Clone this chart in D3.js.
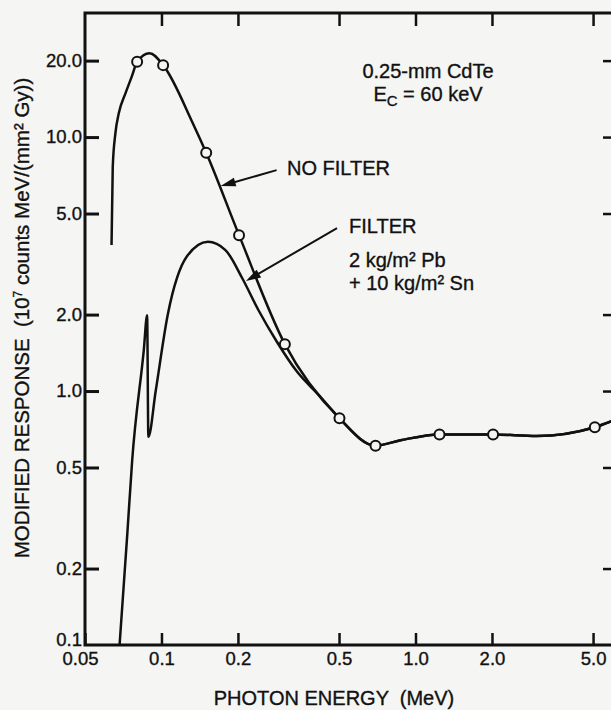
<!DOCTYPE html>
<html>

<head>
    <title>CdTe modified response</title>
    <script src="https://cdnjs.cloudflare.com/ajax/libs/d3/7.8.5/d3.min.js"></script>
    <style>
        body { margin: 0; background: #f5f5f3; }
        text { font-family: "Liberation Sans", Arial, Helvetica, sans-serif; fill: #111; stroke: #111; stroke-width: 0.35px; }
    </style>
</head>

<body>
    <svg id="chart" width="611" height="710"></svg>
    <script>
        // values (energy in MeV, response in 10^7 counts MeV/(mm2 Gy))
        var noFilterEnergy = [0.0636, 0.0643, 0.0659, 0.0679, 0.0722, 0.0767, 0.0802, 0.0897, 0.1015, 0.132, 0.150,
            0.202, 0.306, 0.502, 0.696, 0.873, 1.243, 2.02, 3.0, 5.08, 6.1]
        var noFilterResponse = [3.76, 7.64, 10.4, 12.4, 14.9, 17.5, 19.8, 21.4, 19.2, 11.5, 8.67,
            4.11, 1.53, 0.781, 0.609, 0.64, 0.675, 0.675, 0.665, 0.72, 0.77]

        var filterEnergy = [0.0684, 0.0733, 0.0767, 0.0852, 0.0878, 0.0888, 0.0949, 0.1059, 0.1262, 0.1524, 0.1786,
            0.208, 0.241, 0.285, 0.342, 0.42, 0.475, 0.502, 0.696, 0.873, 1.243, 2.02, 3.0, 5.08, 6.1]
        var filterResponse = [0.1, 0.27, 0.535, 1.45, 1.99, 0.66, 1.0, 2.0, 3.40, 3.87, 3.59,
            2.78, 2.08, 1.56, 1.19, 0.955, 0.83, 0.781, 0.609, 0.64, 0.675, 0.675, 0.665, 0.72, 0.77]

        var pointEnergy = [0.0802, 0.1015, 0.150, 0.202, 0.306, 0.502, 0.696, 1.243, 2.02, 5.08]
        var pointResponse = [19.8, 19.2, 8.67, 4.11, 1.53, 0.781, 0.609, 0.675, 0.675, 0.72]

        var xTicks = [0.05, 0.1, 0.2, 0.5, 1, 2, 5]
        var xTickLabels = ["0.05", "0.1", "0.2", "0.5", "1.0", "2.0", "5.0"]
        var yTicks = [0.1, 0.2, 0.5, 1, 2, 5, 10, 20]
        var yTickLabels = ["0.1", "0.2", "0.5", "1.0", "2.0", "5.0", "10.0", "20.0"]

        var ink = "#111"
        var svg = d3.select("#chart")

        var x = d3.scaleLog().domain([0.05, 6.1]).range([85, 615])
        var y = d3.scaleLog().domain([0.1, 30.8]).range([645, 13])

        // axes, ticks pointing into the plot
        var bottom = svg.append("g")
            .attr("transform", "translate(0,645)")
            .call(d3.axisBottom(x).tickValues(xTicks).tickFormat((d, i) => xTickLabels[i]).tickSize(-12).tickPadding(7))
        var top = svg.append("g")
            .attr("transform", "translate(0,13)")
            .call(d3.axisTop(x).tickValues(xTicks.slice(1)).tickFormat("").tickSize(-13))
        var left = svg.append("g")
            .attr("transform", "translate(85,0)")
            .call(d3.axisLeft(y).tickValues(yTicks.slice(1)).tickFormat("").tickSize(-14))
        var leftLabels = svg.append("g")
            .attr("transform", "translate(85,0)")
            .call(d3.axisLeft(y).tickValues(yTicks).tickFormat((d, i) => yTickLabels[i]).tickSize(0).tickPadding(3))
        var right = svg.append("g")
            .attr("transform", "translate(615,0)")
            .call(d3.axisRight(y).tickValues(yTicks.slice(1)).tickFormat("").tickSize(-12))

        svg.selectAll(".domain").remove()
        svg.selectAll(".tick line").style("stroke", ink).style("stroke-width", "2.5px")
        left.selectAll(".tick line").style("stroke-width", "3px")
        svg.selectAll(".tick text")
            .style("font-size", "18.5px")
            .style("font-family", '"Liberation Sans", Arial, sans-serif')
            .style("fill", ink)
        leftLabels.selectAll(".tick text").filter(d => d === 0.1).attr("dy", "0.0em")
        bottom.selectAll(".tick text").filter(d => d === 0.05).attr("dx", -5)

        // frame
        svg.append("path")
            .attr("d", "M611,13H85V645H611")
            .style("fill", "none")
            .style("stroke", ink)
            .style("stroke-width", "3px")

        var line = d3.line()
            .x(d => x(d[0]))
            .y(d => y(d[1]))
            .curve(d3.curveMonotoneX)

        var plot = svg.append("g")

        plot.append("path")
            .datum(filterEnergy.map((e, i) => [e, filterResponse[i]]))
            .attr("d", line)
            .style("fill", "none")
            .style("stroke", ink)
            .style("stroke-width", "2.5px")

        plot.append("path")
            .datum(noFilterEnergy.map((e, i) => [e, noFilterResponse[i]]))
            .attr("d", line)
            .style("fill", "none")
            .style("stroke", ink)
            .style("stroke-width", "2.5px")

        plot.selectAll("circle")
            .data(pointEnergy.map((e, i) => [e, pointResponse[i]]))
            .enter().append("circle")
            .attr("cx", d => x(d[0]))
            .attr("cy", d => y(d[1]))
            .attr("r", 5)
            .style("fill", "#f5f5f3")
            .style("stroke", ink)
            .style("stroke-width", "2px")

        // leader arrows, given in data coordinates
        function arrow(tail, tip) {
            var x0 = x(tail[0]), y0 = y(tail[1]), x1 = x(tip[0]), y1 = y(tip[1])
            var len = Math.hypot(x1 - x0, y1 - y0)
            var ux = (x1 - x0) / len, uy = (y1 - y0) / len
            var L = 15, W = 4.5
            plot.append("line")
                .attr("x1", x0).attr("y1", y0)
                .attr("x2", x1 - ux * 6).attr("y2", y1 - uy * 6)
                .style("stroke", ink)
                .style("stroke-width", "2px")
            plot.append("path")
                .attr("d", `M${x1},${y1}L${x1 - ux * L - uy * W},${y1 - uy * L + ux * W}L${x1 - ux * L + uy * W},${y1 - uy * L - ux * W}Z`)
                .style("fill", ink)
        }
        arrow([0.284, 7.41], [0.171, 6.41])
        arrow([0.491, 4.38], [0.215, 2.71])

        // labels
        var labels = svg.append("g").style("font-size", "20px")

        labels.append("text")
            .attr("x", 428).attr("y", 78)
            .attr("text-anchor", "middle")
            .text("0.25-mm CdTe")

        var ec = labels.append("text")
            .attr("x", 428).attr("y", 101)
            .attr("text-anchor", "middle")
        ec.append("tspan").text("E")
        ec.append("tspan").attr("dy", 5).style("font-size", "15px").text("C")
        ec.append("tspan").attr("dy", -5).text(" = 60 keV")

        labels.append("text")
            .attr("x", 287).attr("y", 175)
            .text("NO FILTER")

        labels.append("text")
            .attr("x", 349).attr("y", 233)
            .text("FILTER")

        labels.append("text")
            .attr("x", 349).attr("y", 267)
            .text("2 kg/m² Pb")

        labels.append("text")
            .attr("x", 349).attr("y", 290)
            .text("+ 10 kg/m² Sn")

        labels.append("text")
            .attr("x", 334).attr("y", 705)
            .attr("text-anchor", "middle")
            .style("white-space", "pre")
            .text("PHOTON ENERGY  (MeV)")

        var yl = labels.append("text")
            .attr("transform", "translate(29,318) rotate(-90)")
            .attr("text-anchor", "middle")
            .style("white-space", "pre")
            .style("font-size", "20.5px")
        yl.append("tspan").text("MODIFIED RESPONSE  (10")
        yl.append("tspan").attr("dy", -7).style("font-size", "12px").text("7")
        yl.append("tspan").attr("dy", 7).text(" counts MeV/(mm² Gy))")
    </script>
</body>

</html>
